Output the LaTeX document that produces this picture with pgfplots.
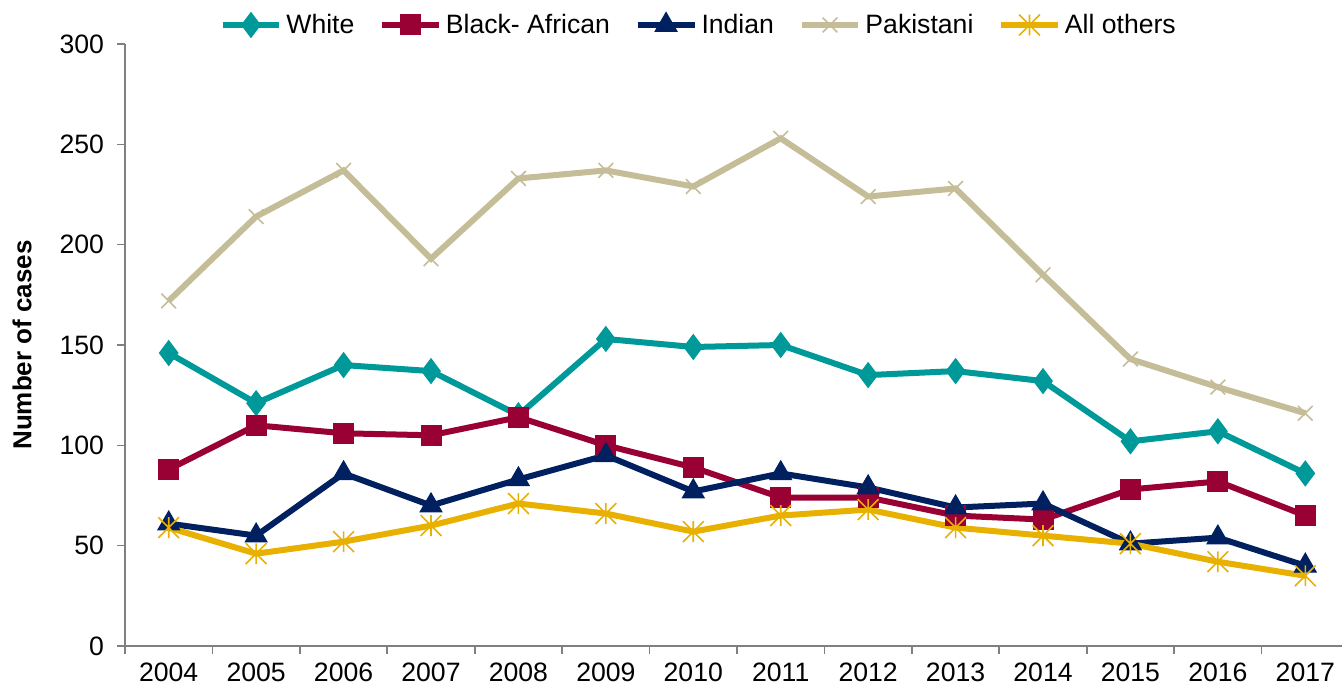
\documentclass[border=0pt]{standalone}
\usepackage{pgfplots}
\pgfplotsset{compat=1.18}
\usepackage{fontspec}
\setmainfont{Liberation Sans}

\definecolor{cWhite}{RGB}{0,153,153}
\definecolor{cBlack}{RGB}{153,0,51}
\definecolor{cIndian}{RGB}{0,32,96}
\definecolor{cPak}{RGB}{196,189,151}
\definecolor{cOther}{RGB}{232,176,0}

% star marker: a cross with a vertical stroke through it
\pgfdeclareplotmark{xstar}{%
  \pgfpathmoveto{\pgfqpoint{0pt}{\pgfplotmarksize}}%
  \pgfpathlineto{\pgfqpoint{0pt}{-\pgfplotmarksize}}%
  \pgfpathmoveto{\pgfqpoint{-\pgfplotmarksize}{\pgfplotmarksize}}%
  \pgfpathlineto{\pgfqpoint{\pgfplotmarksize}{-\pgfplotmarksize}}%
  \pgfpathmoveto{\pgfqpoint{-\pgfplotmarksize}{-\pgfplotmarksize}}%
  \pgfpathlineto{\pgfqpoint{\pgfplotmarksize}{\pgfplotmarksize}}%
  \pgfusepathqstroke}

\pgfplotstableread{
x White Black Indian Pak Other
0 146 88 61 172 59
1 121 110 55 214 46
2 140 106 86 237 52
3 137 105 70 193 60
4 115 114 83 233 71
5 153 100 95 237 66
6 149 89 77 229 57
7 150 74 86 253 65
8 135 74 79 224 68
9 137 65 69 228 59
10 132 63 71 185 55
11 102 78 51 143 51
12 107 82 54 129 42
13 86 65 40 116 35
}\cases

\begin{document}
\begin{tikzpicture}
\useasboundingbox (0,0) rectangle (671pt,345pt);
\begin{axis}[
  at={(62.5pt,22pt)}, anchor=south west,
  scale only axis, width=612pt, height=301pt,
  xmin=-0.5, xmax=13.5, ymin=0, ymax=300,
  xtick={0,...,13},
  xticklabels={2004,2005,2006,2007,2008,2009,2010,2011,2012,2013,2014,2015,2016,2017},
  x tick style={draw=none},
  extra x ticks={-0.5,0.5,...,13.5},
  extra x tick labels={},
  extra x tick style={x tick style={draw=gray, line width=0.8pt}, major tick length=4pt},
  ytick={0,50,...,300},
  y tick style={draw=gray, line width=0.8pt},
  major tick length=4pt,
  tick align=outside,
  axis x line*=bottom, axis y line*=left,
  axis line style={gray, line width=0.8pt, -},
  ticklabel style={font=\fontsize{13.3}{15}\selectfont},
  xticklabel style={yshift=-1pt},
  yticklabel style={xshift=-3pt},
  /pgf/number format/assume math mode=true,
  ylabel={\bfseries Number of cases},
  ylabel style={font=\fontsize{13}{15}\selectfont, at={(axis description cs:-0.0841,0.5)}, anchor=center},
  legend columns=5,
  legend style={draw=none, fill=none, at={(0.4695,1.0)}, anchor=center, yshift=9.5pt,
    font=\fontsize{13.3}{15}\selectfont,
    /tikz/every even column/.append style={column sep=10.3pt}},
  legend image code/.code={
    \draw[mark repeat=2,mark phase=2] plot coordinates {(0cm,0cm) (0.5cm,0cm) (1.0cm,0cm)};},
  every axis plot/.append style={line width=3pt},
]
\addplot[cWhite, mark=diamond*, mark size=6.2pt, mark options={solid, fill=cWhite, line width=0.5pt}] table[x=x,y=White]{\cases};
\addlegendentry{White}
\addplot[cBlack, mark=square*, mark size=5pt, mark options={solid, fill=cBlack, line width=0.5pt}] table[x=x,y=Black]{\cases};
\addlegendentry{Black- African}
\addplot[cIndian, mark=triangle*, mark size=6.3pt, mark options={solid, fill=cIndian, line width=0.5pt}] table[x=x,y=Indian]{\cases};
\addlegendentry{Indian}
\addplot[cPak, mark=x, mark size=5.2pt, mark options={solid, line width=0.8pt}] table[x=x,y=Pak]{\cases};
\addlegendentry{Pakistani}
\addplot[cOther, mark=xstar, mark size=5.2pt, mark options={solid, line width=0.8pt}] table[x=x,y=Other]{\cases};
\addlegendentry{All others}
\end{axis}
\end{tikzpicture}
\end{document}
